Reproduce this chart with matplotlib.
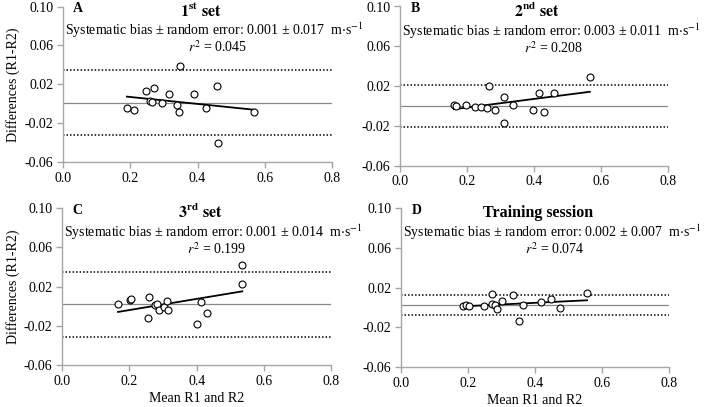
import numpy as np
import matplotlib
matplotlib.use("Agg")
import matplotlib.pyplot as plt

plt.rcParams['font.family'] = ['Liberation Serif', 'DejaVu Serif']
plt.rcParams['mathtext.fontset'] = 'stix'
plt.rcParams['font.size'] = 9

# data (mean of R1/R2 vs difference R1-R2)
x_a = [0.190, 0.210, 0.248, 0.271, 0.259, 0.266, 0.294, 0.315, 0.340, 0.345,
       0.347, 0.390, 0.425, 0.457, 0.462, 0.568]
d_a = [-0.0043, -0.0063, 0.0133, 0.0164, 0.0026, 0.0015, 0.0005, 0.0105, -0.0016, -0.0088,
       0.0387, 0.0098, -0.0047, 0.0188, -0.0404, -0.0081]

x_b = [0.161, 0.167, 0.196, 0.223, 0.241, 0.260, 0.264, 0.284, 0.311, 0.309,
       0.337, 0.398, 0.415, 0.431, 0.459, 0.567]
d_b = [0.0010, 0.0000, 0.0010, -0.0007, -0.0007, -0.0017, 0.0205, -0.0040, 0.0087, -0.0166,
       0.0013, -0.0044, 0.0134, -0.0065, 0.0134, 0.0293]

x_c = [0.166, 0.202, 0.205, 0.259, 0.254, 0.276, 0.281, 0.287, 0.304, 0.311,
       0.316, 0.412, 0.401, 0.432, 0.534, 0.536]
d_c = [0.0025, 0.0061, 0.0072, 0.0096, -0.0123, 0.0010, 0.0020, -0.0034, -0.0003, 0.0055,
       -0.0034, 0.0045, -0.0177, -0.0072, 0.0232, 0.0424]

x_d = [0.186, 0.194, 0.202, 0.247, 0.271, 0.271, 0.280, 0.287, 0.302, 0.333,
       0.351, 0.363, 0.417, 0.449, 0.476, 0.556]
d_d = [0.0013, 0.0027, 0.0013, 0.0013, 0.0134, 0.0040, 0.0027, -0.0013, 0.0063, 0.0131,
       -0.0135, 0.0027, 0.0053, 0.0091, -0.0007, 0.0151]

bias_line = [0.0005, 0.0003, 0.0025, 0.0027]
upper_loa = [0.0346, 0.0208, 0.0352, 0.0124]
lower_loa = [-0.0321, -0.0212, -0.0313, -0.0071]

fit_slope = [-0.0356, 0.0430, 0.0566, 0.0164]
fit_icpt = [0.0142, -0.0101, -0.0151, -0.0018]

letters = ['A', 'B', 'C', 'D']
titles = [r'$\mathbf{1^{st}\ set}$', r'$\mathbf{2^{nd}\ set}$', r'$\mathbf{3^{rd}\ set}$', 'Training session']
bias_txt = ['0.001 ± 0.017', '0.003 ± 0.011', '0.001 ± 0.014', '0.002 ± 0.007']
r2_txt = ['0.045', '0.208', '0.199', '0.074']

xs = [x_a, x_b, x_c, x_d]
ds = [d_a, d_b, d_c, d_d]

W, H = 704, 407
# axes boxes in pixels: left, right, top, bottom
boxes = [(63, 332, 6.5, 162.3), (400.3, 667.7, 6.5, 165.7),
         (62.3, 331, 208, 365.3), (401.3, 668.7, 208, 367.3)]

fig = plt.figure(figsize=(W / 100, H / 100), dpi=100)
grey = '#a6a6a6'

for i in range(4):
    l, r, t, b = boxes[i]
    ax = fig.add_axes([l / W, 1 - b / H, (r - l) / W, (b - t) / H])
    ax.set_xlim(0, 0.8)
    ax.set_ylim(-0.06, 0.10)
    ax.set_xticks(np.arange(0, 0.81, 0.2))
    ax.set_yticks([-0.06, -0.02, 0.02, 0.06, 0.10])
    ax.xaxis.set_major_formatter(matplotlib.ticker.FormatStrFormatter('%.1f'))
    ax.yaxis.set_major_formatter(matplotlib.ticker.FormatStrFormatter('%.2f'))
    for s in ['top', 'right']:
        ax.spines[s].set_visible(False)
    for s in ['left', 'bottom']:
        ax.spines[s].set_color(grey)
        ax.spines[s].set_linewidth(1.0)
    ax.tick_params(direction='out', length=4, width=1.0, color=grey, labelsize=10, pad=3)

    ax.axhline(bias_line[i], color='#888888', lw=0.9, zorder=1)
    ax.axhline(upper_loa[i], color='black', lw=1.1, ls=(0, (1, 1.3)), zorder=1)
    ax.axhline(lower_loa[i], color='black', lw=1.1, ls=(0, (1, 1.3)), zorder=1)

    x = np.array(xs[i])
    xl = np.array([x.min(), x.max()])
    ax.plot(xl, fit_slope[i] * xl + fit_icpt[i], color='black', lw=1.3, zorder=2)
    ax.plot(x, ds[i], 'o', ms=5, mfc='white', mec='black', mew=0.8, zorder=3)

    ax.text(0.03, 0.0975, letters[i], fontweight='bold', fontsize=10, va='center', ha='left')
    ax.text(0.41, 0.0948, titles[i], fontweight='bold', fontsize=11.5, va='center', ha='center')
    ax.text(0.006, 0.0755, 'Systematic bias ± random error: ' + bias_txt[i] + r'  m$\cdot$s$^{-1}$',
            fontsize=10, va='center', ha='left')
    ax.text(0.46, 0.0585, r'$r^2$ = ' + r2_txt[i], fontsize=10, va='center', ha='center')

    if i % 2 == 0:
        ax.set_ylabel('Differences (R1-R2)', fontsize=10, labelpad=3)
    if i >= 2:
        ax.set_xlabel('Mean R1 and R2', fontsize=10, labelpad=3)

fig.savefig('out.png', dpi=100)
